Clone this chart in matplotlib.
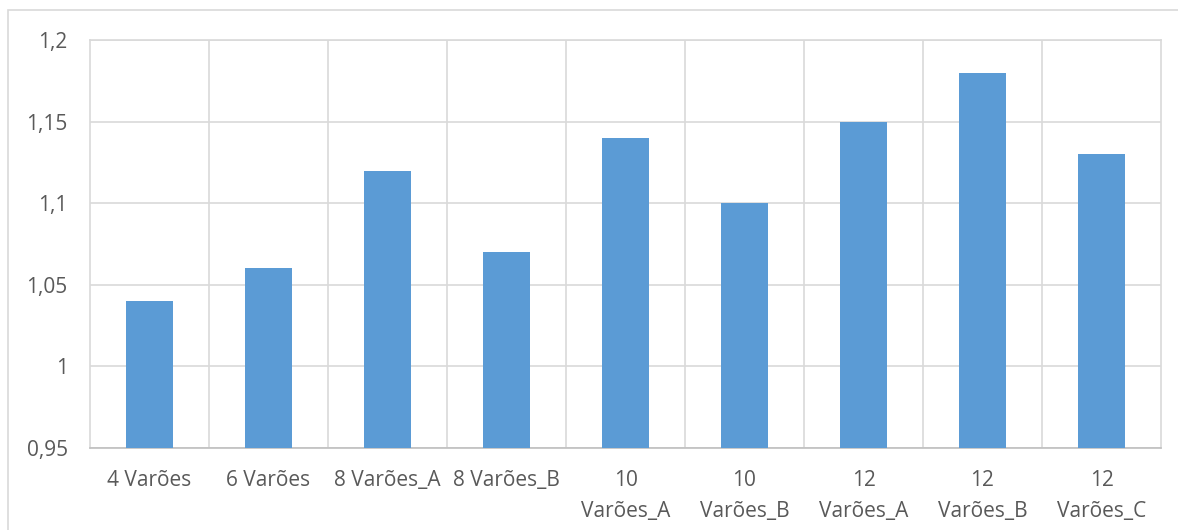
import matplotlib
matplotlib.use('Agg')
import matplotlib.pyplot as plt
from matplotlib.patches import Rectangle
from matplotlib.ticker import FuncFormatter

# Dados do gráfico
categorias = ["4 Varões", "6 Varões", "8 Varões_A", "8 Varões_B", "10\nVarões_A",
              "10\nVarões_B", "12\nVarões_A", "12\nVarões_B", "12\nVarões_C"]
valores = [1.04, 1.06, 1.12, 1.07, 1.14, 1.10, 1.15, 1.18, 1.13]
y_ticks = [0.95, 1.0, 1.05, 1.1, 1.15, 1.2]

plt.rcParams['font.family'] = ['Open Sans', 'DejaVu Sans']

fig = plt.figure(figsize=(11.78, 5.30), dpi=100)
ax = fig.add_axes([90 / 1178, 82 / 530, 1071 / 1178, 408 / 530])

x = range(len(categorias))
ax.bar(x, valores, width=0.4, color="#5B9BD5", zorder=3)

ax.set_xlim(-0.5, len(categorias) - 0.5)
ax.set_ylim(0.95, 1.2)
ax.set_yticks(y_ticks)
ax.yaxis.set_major_formatter(FuncFormatter(lambda v, p: f"{v:g}".replace(".", ",")))
ax.set_xticks(list(x))
ax.set_xticklabels(categorias, fontsize=15, color="#595959", linespacing=1.6)
ax.tick_params(axis="y", labelsize=15, labelcolor="#595959", length=0, pad=16)
ax.tick_params(axis="x", length=0, pad=16)

# Grelha estilo Excel
ax.set_xticks([i + 0.5 for i in range(len(categorias) - 1)], minor=True)
ax.tick_params(axis="x", which="minor", length=0)
ax.grid(axis="y", which="major", color="#D9D9D9", linewidth=1.2, zorder=0)
ax.grid(axis="x", which="minor", color="#D9D9D9", linewidth=1.2, zorder=0)
for s in ["top", "right", "left"]:
    ax.spines[s].set_color("#D9D9D9")
    ax.spines[s].set_linewidth(1.2)
ax.spines["bottom"].set_color("#BFBFBF")
ax.spines["bottom"].set_linewidth(1.2)

# Moldura do gráfico
fig.patches.append(Rectangle((8 / 1178, -0.1), 1.2, 1.1 - 10 / 530,
                             transform=fig.transFigure, fill=False,
                             edgecolor="#D9D9D9", linewidth=1.2))

fig.savefig("out.png", dpi=100)
plt.close(fig)
